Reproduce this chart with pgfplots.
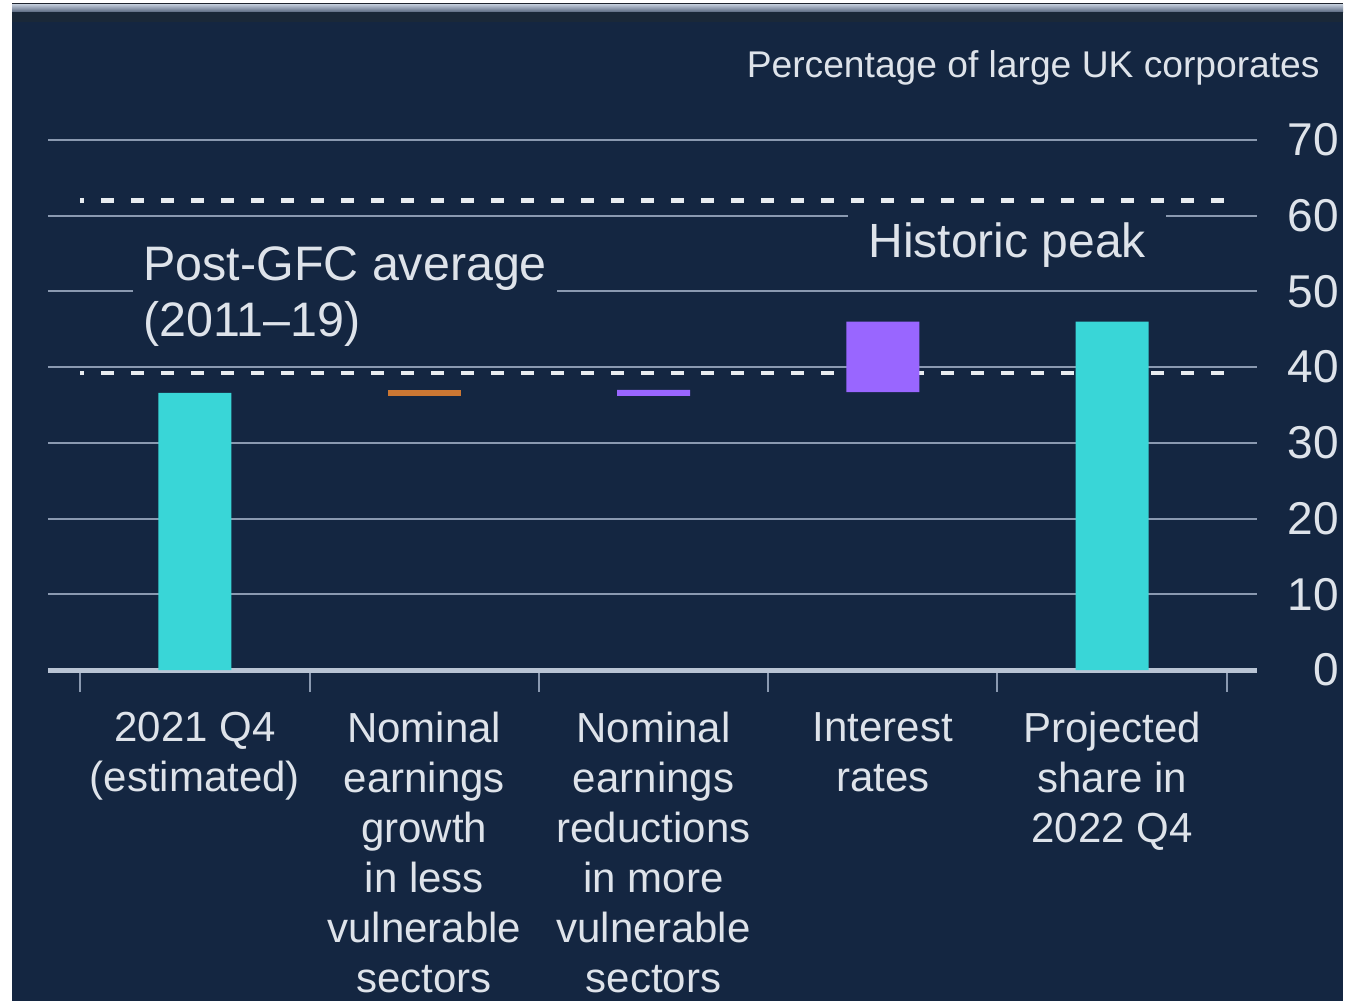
\documentclass[border=0pt]{standalone}
\usepackage{fontspec}
\setmainfont{Liberation Sans}
\usepackage{pgfplots}
\pgfplotsset{compat=1.18}
\definecolor{navy}{RGB}{20,38,65}
\definecolor{band}{RGB}{26,40,56}
\definecolor{topdark}{RGB}{30,36,46}
\definecolor{topA}{RGB}{190,200,215}
\definecolor{topB}{RGB}{90,105,128}
\definecolor{txt}{RGB}{222,227,234}
\definecolor{gridc}{RGB}{138,153,176}
\definecolor{axisc}{RGB}{185,196,212}
\definecolor{cyanbar}{RGB}{57,214,215}
\definecolor{purplebar}{RGB}{153,102,255}
\definecolor{orangebar}{RGB}{204,119,51}
\definecolor{dashc}{RGB}{232,236,240}
\begin{document}
\begin{tikzpicture}
\fill[white] (0,0) rectangle (677.5pt,-500.5pt);
\fill[navy] (6pt,-1.5pt) rectangle (671.5pt,-500.5pt);
\fill[topdark] (6pt,-1.5pt) rectangle (671.5pt,-2.2pt);
\shade[top color=topA, bottom color=topB] (6pt,-2.2pt) rectangle (671.5pt,-6pt);
\fill[band] (6pt,-6pt) rectangle (671.5pt,-11pt);
\node[anchor=base east, text=txt, inner sep=0pt, font=\fontsize{18.6}{22}\selectfont] at (660pt,-38.5pt) {Percentage of large UK corporates};
\begin{axis}[
  at={(24pt,-335pt)}, anchor=south west,
  scale only axis, width=604.5pt, height=265pt,
  xmin=-0.641, xmax=4.632, ymin=0, ymax=70,
  clip=false,
  axis line style={draw=none},
  ybar stacked, bar width=36.5pt,
  xtick={-0.5,0.5,1.5,2.5,3.5,4.5},
  x tick label as interval,
  xticklabels={{2021 Q4\\(estimated)},{Nominal\\earnings\\growth\\in less\\vulnerable\\sectors},{Nominal\\earnings\\reductions\\in more\\vulnerable\\sectors},{Interest\\rates},{Projected\\share in\\2022 Q4}},
  xtick pos=left,
  tick align=outside,
  major tick length=11pt,
  xtick style={draw=gridc, line width=1pt},
  xticklabel style={font=\fontsize{21}{25}\selectfont, align=center, text=txt, inner sep=0pt, anchor=north, yshift=-10pt},
  ytick={0,10,...,70},
  ytick pos=right, yticklabel pos=right,
  ytick style={draw=none},
  yticklabel style={font=\fontsize{23}{27}\selectfont, text=txt, inner sep=0pt, anchor=east, xshift=30pt},
  /pgf/number format/assume math mode=true,
  ymajorgrids,
  grid style={draw=gridc, line width=1pt},
]
\addplot[draw=none, fill=none] coordinates {(0,0) (1,36.2) (2,36.2) (3,36.7) (4,0)};
\addplot[draw=none, fill=cyanbar] coordinates {(0,36.6) (1,0) (2,0) (3,0) (4,46.0)};
\addplot[draw=none, fill=orangebar] coordinates {(0,0) (1,0.8) (2,0) (3,0) (4,0)};
\addplot[draw=none, fill=purplebar] coordinates {(0,0) (1,0) (2,0.8) (3,9.3) (4,0)};
\draw[axisc, line width=2.5pt] (axis cs:-0.641,0) -- (axis cs:4.632,0);
\node[anchor=north west, fill=navy, text=txt, inner xsep=5pt, inner ysep=3pt, align=left, font=\fontsize{24.2}{28}\selectfont] at (axis cs:-0.270,56.7) {Post-GFC average\\(2011--19)};
\node[anchor=base, fill=navy, text=txt, inner xsep=10pt, inner ysep=6pt, font=\fontsize{24}{28}\selectfont] at (axis cs:3.542,54.42) {Historic peak};
\draw[dashc, line width=2.2pt, dash pattern=on 6.5pt off 8.5pt, dash phase=4.5pt] (axis cs:-0.5,62) -- (axis cs:4.5,62);
\draw[dashc, line width=2.2pt, dash pattern=on 6.5pt off 8.5pt, dash phase=4.5pt] (axis cs:-0.5,39.2) -- (axis cs:4.5,39.2);
\end{axis}
\pgfresetboundingbox
\path[use as bounding box] (0,0) rectangle (677.5pt,-500.5pt);
\end{tikzpicture}
\end{document}
